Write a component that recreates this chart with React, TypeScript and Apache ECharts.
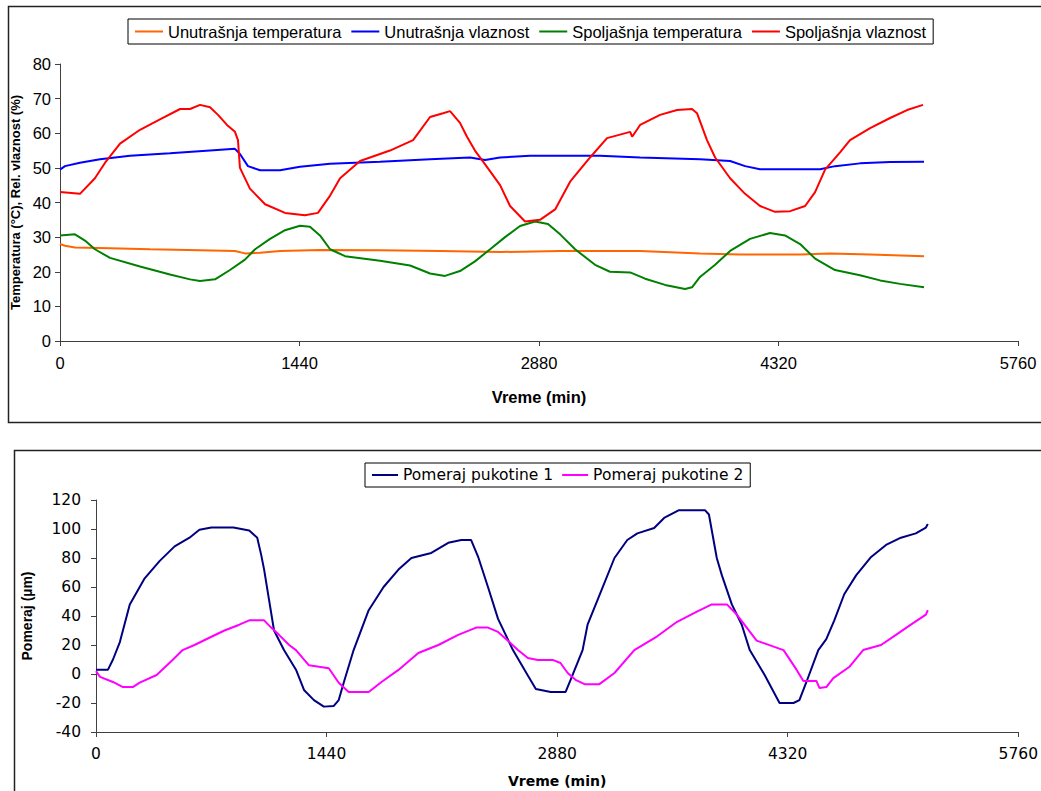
import React, { useEffect, useRef } from "react";
import * as echarts from "echarts";

// ---------- Top chart data: [time (min), value] ----------
const unutrasnjaTemperatura: [number, number][] = [
  [0, 28], [30, 27.5], [90, 27], [301, 26.8], [541, 26.5], [842, 26.2], [1052, 26], [1112, 25.3],
  [1203, 25.5], [1323, 26], [1563, 26.3], [1924, 26.2], [2285, 26], [2646, 25.7], [3007, 26],
  [3488, 26], [3848, 25.3], [4089, 25], [4450, 25], [4630, 25.3], [4871, 25], [5195, 24.5],
];

const unutrasnjaVlaznost: [number, number][] = [
  [0, 49.5], [30, 50.5], [120, 51.5], [241, 52.5], [421, 53.5], [661, 54.2], [902, 55], [1052, 55.5],
  [1082, 54], [1130, 50.5], [1203, 49.3], [1323, 49.3], [1443, 50.3], [1624, 51.2], [1924, 51.8],
  [2225, 52.5], [2465, 53], [2556, 52.3], [2646, 53], [2826, 53.5], [3247, 53.5], [3488, 53],
  [3848, 52.5], [4029, 52], [4119, 50.5], [4209, 49.6], [4570, 49.6], [4660, 50.5], [4810, 51.3],
  [4991, 51.7], [5195, 51.8],
];

const spoljasnjaTemperatura: [number, number][] = [
  [0, 30.5], [90, 30.8], [150, 29], [210, 26.5], [301, 24], [481, 21.5], [661, 19.2], [782, 17.8],
  [842, 17.3], [932, 17.8], [1022, 20.5], [1112, 23.5], [1173, 26.5], [1263, 29.5], [1353, 32],
  [1443, 33.3], [1503, 33], [1563, 30.5], [1624, 26.5], [1714, 24.5], [1924, 23.2], [2105, 21.8],
  [2225, 19.5], [2315, 18.8], [2405, 20.2], [2495, 23], [2586, 26.5], [2676, 30], [2766, 33.2],
  [2856, 34.5], [2934, 33.8], [3007, 30.8], [3097, 26.5], [3217, 22], [3307, 20], [3428, 19.8],
  [3518, 18], [3638, 16.2], [3758, 15], [3800, 15.5], [3848, 18.5], [3939, 22], [4029, 26],
  [4149, 29.5], [4269, 31.2], [4359, 30.5], [4450, 28], [4540, 23.8], [4660, 20.5], [4810, 19],
  [4931, 17.5], [5051, 16.5], [5195, 15.5],
];

const spoljasnjaVlaznost: [number, number][] = [
  [0, 43], [120, 42.5], [210, 47], [271, 51.5], [361, 57], [481, 61], [601, 64], [722, 67], [782, 67],
  [842, 68.2], [902, 67.5], [950, 65.3], [1004, 62.4], [1052, 60.4], [1070, 58], [1082, 50],
  [1142, 44], [1233, 39.5], [1353, 37], [1473, 36.3], [1551, 37], [1624, 42], [1684, 47], [1804, 52],
  [1984, 55], [2123, 58], [2225, 64.7], [2303, 65.8], [2345, 66.4], [2405, 63], [2447, 59], [2495, 55],
  [2556, 51], [2646, 45], [2706, 39], [2796, 34.5], [2886, 35], [2977, 38], [3067, 46], [3187, 53],
  [3289, 58.6], [3428, 60.4], [3440, 59], [3488, 62.4], [3608, 65.3], [3710, 66.7], [3800, 67],
  [3830, 65.8], [3890, 58], [3939, 53], [4029, 47], [4119, 42.5], [4209, 39], [4299, 37.3],
  [4390, 37.5], [4480, 39], [4540, 43], [4600, 49.5], [4690, 54.5], [4750, 58], [4871, 61.5],
  [4991, 64.4], [5093, 66.7], [5189, 68.2],
];

// ---------- Bottom chart data: [time (min), displacement (µm)] ----------
const pomerajPukotine1: [number, number][] = [
  [0, 3], [75, 3], [106, 10], [149, 22], [211, 48], [304, 66], [398, 78], [491, 88], [584, 94],
  [646, 99.5], [721, 101], [858, 101], [957, 99], [1007, 94], [1032, 82], [1050, 72], [1081, 51],
  [1112, 30], [1174, 16.5], [1249, 3], [1299, -11], [1361, -18], [1423, -22.5], [1485, -22],
  [1516, -18], [1547, -6], [1609, 16.5], [1703, 44], [1796, 60], [1889, 72], [1970, 80], [2094, 83.5],
  [2200, 90.5], [2281, 92.4], [2343, 92.4], [2386, 81], [2448, 60], [2511, 38], [2604, 16.5],
  [2697, -1], [2747, -10.3], [2840, -12.4], [2933, -12.4], [2964, -4], [3039, 16.5], [3070, 34],
  [3132, 51], [3238, 80], [3318, 92.4], [3381, 97], [3486, 100.7], [3548, 107.6], [3641, 113],
  [3803, 113], [3828, 110], [3877, 80], [3909, 68], [3971, 48], [4033, 34], [4083, 16.5],
  [4176, -0.7], [4269, -20], [4356, -20], [4393, -18], [4437, -5.5], [4511, 16.5], [4561, 24],
  [4611, 37], [4673, 55], [4747, 68], [4841, 80.7], [4934, 89], [5027, 94], [5120, 97], [5183, 101],
  [5195, 103.5],
];

const pomerajPukotine2: [number, number][] = [
  [0, 2], [25, -2], [106, -5.5], [168, -9], [230, -9], [273, -6], [379, -0.7], [478, 9.7],
  [541, 16.5], [615, 20], [708, 25], [802, 30], [895, 34], [957, 37], [1050, 37], [1094, 32],
  [1143, 27], [1206, 20], [1249, 16.5], [1330, 6], [1454, 4], [1516, -6], [1578, -12.4],
  [1703, -12.4], [1783, -5.5], [1889, 2.8], [2013, 14.5], [2138, 20], [2262, 27], [2374, 32],
  [2448, 32], [2511, 29], [2573, 23], [2635, 16.5], [2697, 11], [2759, 9.7], [2852, 9.7],
  [2901, 7.6], [2946, 0.7], [2995, -4], [3051, -7], [3144, -7], [3238, 0.7], [3362, 16.5],
  [3505, 26], [3629, 36], [3753, 43], [3846, 48], [3940, 48], [4002, 41], [4126, 23], [4294, 16.5],
  [4375, 3], [4418, -4.8], [4499, -4.8], [4518, -9.6], [4561, -9], [4605, -2.8], [4704, 4.8],
  [4791, 16.5], [4903, 20], [4996, 27], [5089, 34], [5183, 41], [5195, 44],
];

const topSeriesNames = ["Unutrašnja temperatura", "Unutrašnja vlaznost", "Spoljašnja temperatura", "Spoljašnja vlaznost"];
const topColors = ["#FF6600", "#0000FF", "#008000", "#FF0000"];
const bottomSeriesNames = ["Pomeraj pukotine 1", "Pomeraj pukotine 2"];
const bottomColors = ["#000080", "#FF00FF"];

const xTicks = [0, 1440, 2880, 4320, 5760];

const FONT_TOP = "Liberation Sans, Arial, sans-serif";
const FONT_BOT = "DejaVu Sans, Verdana, sans-serif";

export default function App() {
  const ref = useRef<HTMLDivElement>(null);
  useEffect(() => {
    if (!ref.current) return;
    const chart = echarts.init(ref.current, undefined, { renderer: "svg" });
    const axisLine = { show: true, onZero: false, lineStyle: { color: "#404040", width: 1 } };
    const axisTick = { show: true, inside: false, length: 5, lineStyle: { color: "#404040" } };
    const plain = (v: number) => String(v);
    const xAxisBase = (gridIndex: number, margin: number, nameGap: number, font: string, size: number, nameSize: number) => ({
      type: "value" as const,
      gridIndex,
      min: xTicks[0],
      max: xTicks[xTicks.length - 1],
      interval: 1440,
      axisLine,
      axisTick,
      splitLine: { show: false },
      axisLabel: { color: "#000", fontFamily: font, fontSize: size, margin, formatter: plain },
      name: "Vreme (min)",
      nameLocation: "middle" as const,
      nameGap,
      nameTextStyle: { color: "#000", fontFamily: font, fontSize: nameSize, fontWeight: "bold" as const },
    });
    const topData = [unutrasnjaTemperatura, unutrasnjaVlaznost, spoljasnjaTemperatura, spoljasnjaVlaznost];
    const bottomData = [pomerajPukotine1, pomerajPukotine2];
    chart.setOption({
      animation: false,
      backgroundColor: "#fff",
      textStyle: { fontFamily: FONT_TOP },
      graphic: [
        { type: "rect", shape: { x: 8.5, y: 6.5, width: 1100, height: 416 }, style: { fill: "none", stroke: "#222", lineWidth: 1.5 }, z: -1 },
        { type: "rect", shape: { x: 14.5, y: 450.5, width: 1100, height: 400 }, style: { fill: "none", stroke: "#222", lineWidth: 1.5 }, z: -1 },
      ],
      grid: [
        { left: 60, right: 23, top: 64, bottom: 450 },
        { left: 96, right: 18, top: 500, bottom: 59 },
      ],
      legend: [
        {
          data: topSeriesNames,
          left: 128,
          top: 19,
          icon: "rect",
          itemWidth: 28,
          itemHeight: 2,
          itemGap: 10,
          padding: [4, 7, 4, 7],
          borderColor: "#000",
          borderWidth: 1,
          backgroundColor: "#fff",
          textStyle: { color: "#000", fontFamily: FONT_TOP, fontSize: 16.5 },
        },
        {
          data: bottomSeriesNames,
          left: 365,
          top: 463,
          icon: "rect",
          itemWidth: 26,
          itemHeight: 2,
          itemGap: 9,
          padding: [4, 7, 4, 7],
          borderColor: "#000",
          borderWidth: 1,
          backgroundColor: "#fff",
          textStyle: { color: "#000", fontFamily: FONT_BOT, fontSize: 15.5 },
        },
      ],
      xAxis: [xAxisBase(0, 13, 47, FONT_TOP, 16.5, 16.5), xAxisBase(1, 14, 42, FONT_BOT, 15.5, 14)],
      yAxis: [
        {
          type: "value",
          gridIndex: 0,
          min: 0,
          max: 80,
          interval: 10,
          axisLine,
          axisTick,
          splitLine: { show: false },
          axisLabel: { color: "#000", fontFamily: FONT_TOP, fontSize: 16.5, margin: 9, formatter: plain },
          name: "Temperatura (°C), Rel. vlaznost (%)",
          nameLocation: "middle",
          nameGap: 27,
          nameTextStyle: { color: "#000", fontFamily: FONT_TOP, fontSize: 13, fontWeight: "bold" },
        },
        {
          type: "value",
          gridIndex: 1,
          min: -40,
          max: 120,
          interval: 20,
          axisLine,
          axisTick,
          splitLine: { show: false },
          axisLabel: { color: "#000", fontFamily: FONT_BOT, fontSize: 15.5, margin: 15, formatter: plain },
          name: "Pomeraj (µm)",
          nameLocation: "middle",
          nameGap: 62,
          nameTextStyle: { color: "#000", fontFamily: FONT_TOP, fontSize: 14, fontWeight: "bold" },
        },
      ],
      series: [
        ...topSeriesNames.map((name, i) => ({
          name,
          type: "line",
          xAxisIndex: 0,
          yAxisIndex: 0,
          data: topData[i],
          symbol: "none",
          color: topColors[i],
          lineStyle: { color: topColors[i], width: 2 },
        })),
        ...bottomSeriesNames.map((name, i) => ({
          name,
          type: "line",
          xAxisIndex: 1,
          yAxisIndex: 1,
          data: bottomData[i],
          symbol: "none",
          color: bottomColors[i],
          lineStyle: { color: bottomColors[i], width: 2 },
        })),
      ],
    });
    return () => chart.dispose();
  }, []);
  return <div ref={ref} style={{ position: "absolute", left: 0, top: 0, width: 1041, height: 791 }} />;
}
